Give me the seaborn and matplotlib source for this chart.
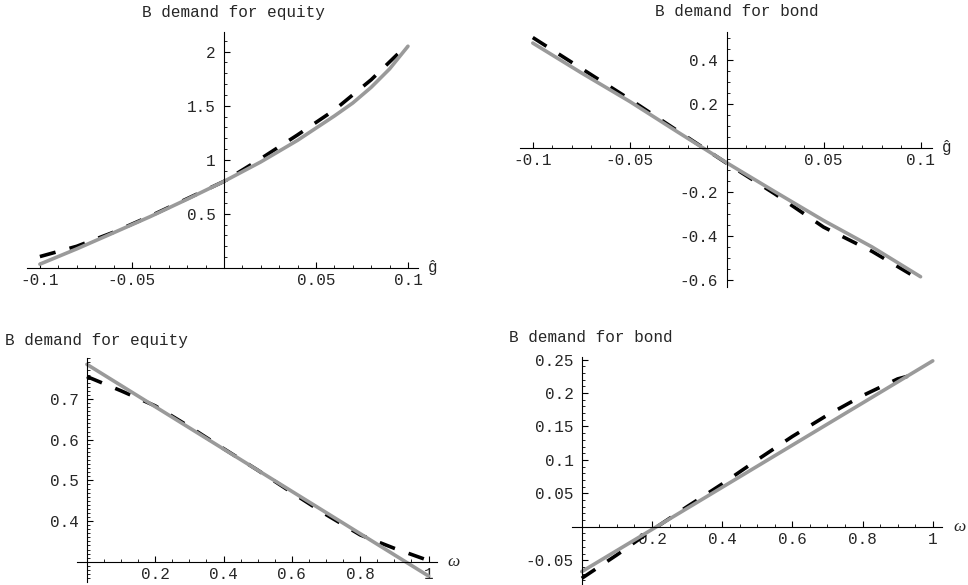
import seaborn as sns
import matplotlib.pyplot as plt
import pandas as pd
from matplotlib.ticker import MultipleLocator

# Data
# top row: demand against g-hat
g_solid = [-0.1, -0.08, -0.06, -0.04, -0.02, 0.0, 0.02, 0.04, 0.06, 0.07, 0.08, 0.09, 0.1]
eq_g_solid = [0.035, 0.176, 0.325, 0.475, 0.635, 0.80, 0.98, 1.18, 1.405, 1.525, 1.67, 1.84, 2.05]
g_dash = [-0.1, -0.08, -0.06, -0.04, -0.02, 0.0, 0.02, 0.04, 0.06, 0.08, 0.097]
eq_g_dash = [0.105, 0.20, 0.33, 0.48, 0.64, 0.80, 1.01, 1.23, 1.46, 1.74, 2.02]

g_bond = [-0.1, -0.075, -0.05, -0.025, 0.0, 0.025, 0.05, 0.075, 0.1]
bond_g_solid = [0.475, 0.34, 0.21, 0.07, -0.068, -0.20, -0.33, -0.45, -0.585]
g_bond_dash = [-0.1, -0.075, -0.05, -0.025, 0.0, 0.025, 0.05, 0.075, 0.098]
bond_g_dash = [0.50, 0.36, 0.22, 0.075, -0.07, -0.21, -0.36, -0.47, -0.59]

# bottom row: demand against omega
w_solid = [0.0, 1.0]
eq_w_solid = [0.785, 0.265]
w_dash = [0.0, 0.1, 0.2, 0.3, 0.4, 0.5, 0.6, 0.7, 0.8, 0.9, 1.0]
eq_w_dash = [0.755, 0.72, 0.683, 0.632, 0.578, 0.525, 0.47, 0.416, 0.366, 0.333, 0.303]

bond_w_solid = [-0.067, 0.248]
w_bond_dash = [0.0, 0.1, 0.2, 0.3, 0.4, 0.5, 0.6, 0.7, 0.8, 0.9, 0.95]
bond_w_dash = [-0.077, -0.042, -0.005, 0.03, 0.064, 0.10, 0.135, 0.167, 0.196, 0.221, 0.228]

# tick labels
g_ticks = [-0.1, -0.05, 0.05, 0.1]
eq_g_ticks = [0.5, 1, 1.5, 2]
bond_g_ticks = [0.4, 0.2, -0.2, -0.4, -0.6]
w_ticks = [0.2, 0.4, 0.6, 0.8, 1]
eq_w_ticks = [0.4, 0.5, 0.6, 0.7]
bond_w_ticks = [-0.05, 0.05, 0.1, 0.15, 0.2, 0.25]

title_eq = 'B demand for equity'
title_bond = 'B demand for bond'

sns.set_style('white')
plt.rcParams['font.family'] = ['Liberation Mono', 'DejaVu Sans Mono']
plt.rcParams['axes.unicode_minus'] = False

GRAY = '#9a9a9a'
FS = 11.5

fig = plt.figure(figsize=(9.68, 5.85), dpi=100)


def draw_panel(rect, xs, ys, xd, yd, xlim, ylim, y_cross, xt, yt, xminor, yminor, xlabel):
    ax = fig.add_axes(rect)
    sns.lineplot(x=xd, y=yd, ax=ax, color='black', lw=2.6, sort=False)
    ax.lines[-1].set_dashes((4.5, 4))
    sns.lineplot(x=xs, y=ys, ax=ax, color=GRAY, lw=2.6, sort=False)
    ax.set_xlim(*xlim)
    ax.set_ylim(*ylim)
    for s in ['top', 'right']:
        ax.spines[s].set_visible(False)
    ax.spines['left'].set_position(('data', 0))
    ax.spines['bottom'].set_position(('data', y_cross))
    for s in ['left', 'bottom']:
        ax.spines[s].set_linewidth(0.8)
        ax.spines[s].set_color('black')
    ax.set_xticks(xt)
    ax.set_xticklabels(['%g' % v for v in xt])
    ax.set_yticks(yt)
    ax.set_yticklabels(['%g' % v for v in yt])
    ax.xaxis.set_minor_locator(MultipleLocator(xminor))
    ax.yaxis.set_minor_locator(MultipleLocator(yminor))
    ax.tick_params(which='both', bottom=True, left=True, top=False, right=False)
    ax.tick_params(which='major', direction='in', length=4, width=0.8, labelsize=FS, color='black')
    ax.tick_params(which='minor', direction='in', length=2, width=0.6, color='black')
    ax.tick_params(axis='x', pad=4)
    ax.tick_params(axis='y', pad=6)
    ax.set_xlabel('')
    ax.set_ylabel('')
    ax.patch.set_alpha(0)
    if xlabel == 'g':
        ax.text(1.025, y_cross, 'ĝ', transform=ax.get_yaxis_transform(), ha='left', va='center',
                fontsize=FS, family=['Liberation Mono', 'DejaVu Sans Mono'])
    else:
        ax.text(1.03, y_cross, 'ω', transform=ax.get_yaxis_transform(), ha='left', va='center',
                fontsize=FS + 1, family='Liberation Serif', style='italic')
    return ax


ax1 = draw_panel([0.0279, 0.542, 0.404, 0.403], g_solid, eq_g_solid, g_dash, eq_g_dash,
                 (-0.107, 0.1055), (0, 2.18), 0, g_ticks, eq_g_ticks, 0.01, 0.1, 'g')
ax2 = draw_panel([0.537, 0.51, 0.4256, 0.436], g_bond, bond_g_solid, g_bond_dash, bond_g_dash,
                 (-0.1067, 0.1058), (-0.63, 0.527), 0, g_ticks, bond_g_ticks, 0.01, 0.05, 'g')
ax3 = draw_panel([0.0792, 0.0056, 0.372, 0.382], w_solid, eq_w_solid, w_dash, eq_w_dash,
                 (-0.03, 1.024), (0.251, 0.8), 0.3, w_ticks, eq_w_ticks, 0.05, 0.01, 'w')
ax4 = draw_panel([0.591, 0.0, 0.382, 0.39], w_solid, bond_w_solid, w_bond_dash, bond_w_dash,
                 (-0.0276, 1.026), (-0.087, 0.254), 0, w_ticks, bond_w_ticks, 0.05, 0.01, 'w')

# titles, placed as in the reference
fig.text(233 / 968, 1 - 12 / 585, title_eq, ha='center', va='center', fontsize=FS)
fig.text(737 / 968, 1 - 12 / 585, title_bond, ha='center', va='center', fontsize=FS)
fig.text(5 / 968, 1 - 340 / 585, title_eq, ha='left', va='center', fontsize=FS)
fig.text(509 / 968, 1 - 337 / 585, title_bond, ha='left', va='center', fontsize=FS)

fig.savefig('out.png', dpi=100)
